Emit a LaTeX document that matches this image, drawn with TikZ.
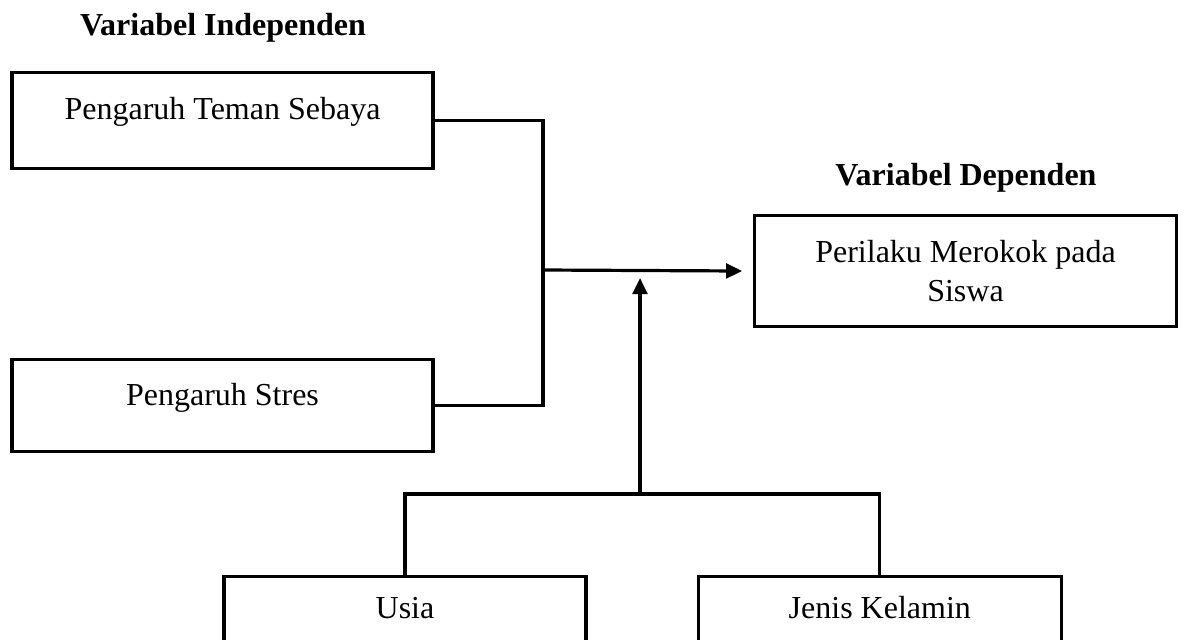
\documentclass[tikz,border=0pt]{standalone}
\usepackage{fontspec}
\setmainfont{Liberation Serif}
\usetikzlibrary{arrows.meta, positioning}

\begin{document}
\begin{tikzpicture}[x=0.375pt, y=-0.375pt,
    every node/.style={font=\fontsize{12}{14.4}\selectfont},
    heading/.style={anchor=base, font=\fontsize{12}{14.4}\selectfont\bfseries},
    varbox/.style={rectangle, draw=black, line width=1.2pt, anchor=north, align=center, inner ysep=0pt},
    link/.style={line width=1.2pt},
    flow/.style={-{Triangle[length=6pt, width=5.5pt]}, line width=1.2pt}]

\useasboundingbox (0,0) rectangle (1184,639);
\clip (0,0) rectangle (1184,639);

% titles
\node[heading] (indep) at (223,35) {Variabel Independen};
\node[heading] (dep) at (966,185) {Variabel Dependen};

% variable boxes
\node[varbox, minimum width=157.9pt, text height=17.6pt, text depth=18.4pt] (teman) at (222.5,71) {Pengaruh Teman Sebaya};
\node[varbox, minimum width=157.9pt, text height=17pt, text depth=17.5pt] (stres) [below=70.5pt of teman] {Pengaruh Stres};
\node[varbox, minimum width=158.3pt, minimum height=41.6pt] (perilaku) at (965.5,214) {Perilaku Merokok pada\\Siswa};
\node[varbox, minimum width=135.8pt, text height=15.8pt, text depth=25.5pt] (usia) at (405,575) {Usia};
\node[varbox, minimum width=136.1pt, text height=15.8pt, text depth=25.5pt] (jenis) [right=40.9pt of usia] {Jenis Kelamin};

\coordinate (join) at (543,270);
\coordinate (fork) at (640,494);

% connectors
\draw[link] (teman.east) -| (join) |- (stres.east);
\draw[flow, shorten >=4pt] (join) -- (perilaku.west);
\draw[link] (usia.north) |- (fork) -| (jenis.north);
\draw[flow, shorten >=3pt] (fork) -- (fork |- join);
\end{tikzpicture}
\end{document}
